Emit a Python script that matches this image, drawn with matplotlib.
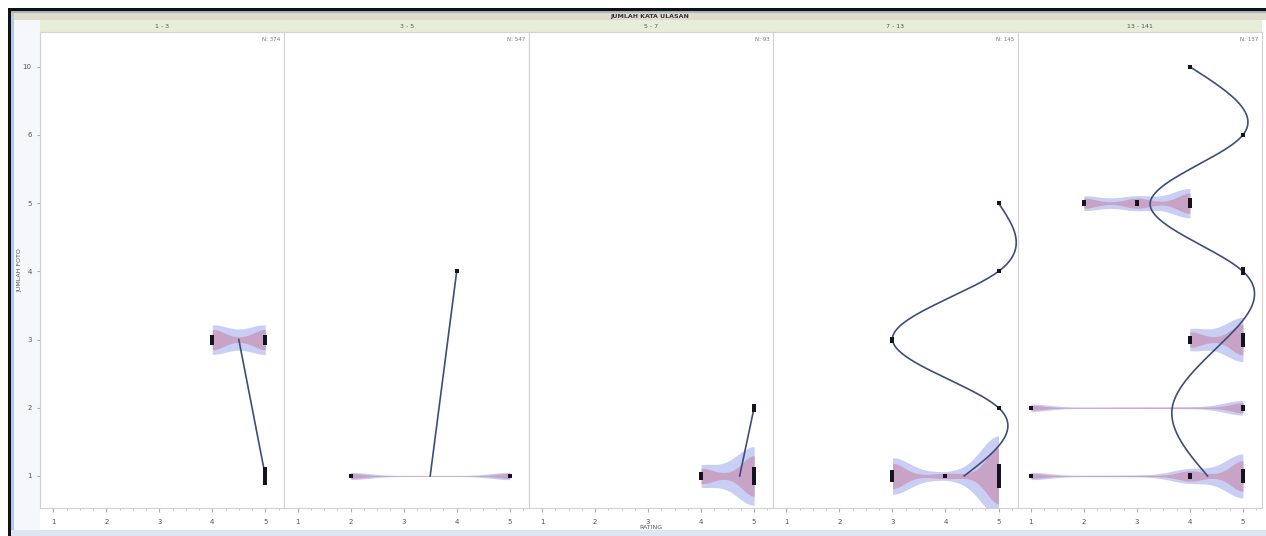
import numpy as np
import matplotlib
matplotlib.use('Agg')
import matplotlib.pyplot as plt
from matplotlib.patches import Rectangle

# data: per panel, {foto category: {rating: count}}
panel_labels = ['1 - 3', '3 - 5', '5 - 7', '7 - 13', '13 - 141']
panel_n = [374, 547, 93, 145, 137]
foto_cats = ['1', '2', '3', '4', '5', '6', '10']

panel1 = {'1': {5: 8}, '3': {4: 4, 5: 4}}
panel2 = {'1': {2: 1, 5: 1}, '4': {4: 1}}
panel3 = {'1': {4: 3, 5: 8}, '2': {5: 3}}
panel4 = {'1': {3: 5, 4: 1, 5: 11}, '2': {5: 1}, '3': {3: 2}, '4': {5: 1}, '5': {5: 1}}
panel5 = {'1': {1: 1, 4: 2, 5: 6}, '2': {1: 1, 5: 2}, '3': {4: 3, 5: 6},
          '4': {5: 3}, '5': {2: 2, 3: 2, 4: 4}, '6': {5: 1}, '10': {4: 1}}
panels = [panel1, panel2, panel3, panel4, panel5]

W, H = 1266, 536
PX_PER_CAT = 68.0
S = 3.2  # px of half width per count


def natural_spline(t, v, tt):
    t = np.asarray(t, float)
    v = np.asarray(v, float)
    n = len(t)
    if n == 2:
        return np.interp(tt, t, v)
    h = np.diff(t)
    A = np.zeros((n, n))
    b = np.zeros(n)
    A[0, 0] = 1
    A[-1, -1] = 1
    for i in range(1, n - 1):
        A[i, i - 1] = h[i - 1]
        A[i, i] = 2 * (h[i - 1] + h[i])
        A[i, i + 1] = h[i]
        b[i] = 3 * ((v[i + 1] - v[i]) / h[i] - (v[i] - v[i - 1]) / h[i - 1])
    c = np.linalg.solve(A, b)
    out = np.zeros_like(tt)
    for i in range(n - 1):
        bi = (v[i + 1] - v[i]) / h[i] - h[i] * (2 * c[i] + c[i + 1]) / 3
        di = (c[i + 1] - c[i]) / (3 * h[i])
        m = (tt >= t[i]) & (tt <= t[i + 1])
        dx = tt[m] - t[i]
        out[m] = v[i] + bi * dx + c[i] * dx ** 2 + di * dx ** 3
    return out


def shape(xs, counts, bw):
    # gaussian bumps on the counts plus a thin linear band between them
    d = np.zeros_like(xs)
    for r, n in counts.items():
        d += n * np.exp(-0.5 * ((xs - r) / bw) ** 2)
    rs = sorted(counts)
    band = np.interp(xs, rs, [counts[r] for r in rs])
    return 0.85 * d + 0.14 * band


def rect(x0, y0, x1, y1, color, z=0):
    fig.add_artist(Rectangle((x0 / W, 1 - y1 / H), (x1 - x0) / W, (y1 - y0) / H,
                             transform=fig.transFigure, facecolor=color,
                             edgecolor='none', zorder=z))


fig = plt.figure(figsize=(W / 100, H / 100), dpi=100)

# frame and header bands
rect(8, 8, W, 11, '#111111', 5)
rect(8, 8, 11, H, '#111111', 5)
rect(11, 11, 40, H, '#f5f7fb')
rect(11, 11, 14, H, '#b3c7e6')
rect(11, 11, W, 13, '#a6b2c6')
rect(14, 13, W, 20, '#e0dccb')
rect(40, 20, 1262, 32, '#e6eed9')
rect(11, 530, W, H, '#dde6f3')
fig.text(650 / W, 1 - 16.5 / H, 'JUMLAH KATA ULASAN', ha='center', va='center',
         fontsize=4.5, fontweight='bold', color='#333333')

left0, right0 = 40, 1262
pw = (right0 - left0) / 5
top, bottom = 32, 508

for i, data in enumerate(panels):
    x0 = left0 + i * pw
    ax = fig.add_axes([x0 / W, (H - bottom) / H, pw / W, (bottom - top) / H])
    ax.set_xlim(0.75, 5.36)
    ax.set_ylim(0.53, 7.51)

    cats = [c for c in foto_cats if c in data]
    ypos = [foto_cats.index(c) + 1 for c in cats]

    # violin-like shapes
    for c, y in zip(cats, ypos):
        counts = data[c]
        if len(counts) < 2:
            continue
        xs = np.linspace(min(counts), max(counts), 300)
        hb = 1.15 * S * shape(xs, counts, 0.34) / PX_PER_CAT
        hm = 0.8 * S * shape(xs, counts, 0.22) / PX_PER_CAT
        ax.fill_between(xs, y - hb, y + hb, color='#c8cef4', lw=0, zorder=1)
        ax.fill_between(xs, y - hm, y + hm, color='#c9a3c6', lw=0, zorder=2)

    # smoother through mean rating
    means = [sum(r * n for r, n in data[c].items()) / sum(data[c].values()) for c in cats]
    if len(ypos) > 1:
        tt = np.linspace(min(ypos), max(ypos), 300)
        ax.plot(natural_spline(ypos, means, tt), tt, color='#3d4d7c', lw=1.2, zorder=3)

    # points, stacked when repeated
    for c, y in zip(cats, ypos):
        for r, n in data[c].items():
            spread = min(2.0 * (n - 1), 22) / PX_PER_CAT
            offs = np.linspace(-spread / 2, spread / 2, n) if n > 1 else [0]
            ax.plot([r] * n, y + np.asarray(offs), 's', ms=2.4, color='#141420',
                    mew=0, zorder=4)

    ax.text(0.985, 0.99, 'N: %d' % panel_n[i], transform=ax.transAxes, ha='right',
            va='top', fontsize=4, color='#777777')
    fig.text((x0 + pw / 2) / W, 1 - 26 / H, panel_labels[i], ha='center', va='center',
             fontsize=4.5, color='#555555')

    for sp in ax.spines.values():
        sp.set_color('#d2d2d2')
        sp.set_linewidth(0.8)
    ax.set_xticks([1, 2, 3, 4, 5])
    ax.set_xticks(np.arange(1.25, 5.3, 0.25), minor=True)
    ax.tick_params(axis='x', which='major', direction='out', length=3, color='#aaaaaa',
                   labelsize=5, labelcolor='#555555', pad=5)
    ax.tick_params(axis='x', which='minor', direction='out', length=1.5, color='#bbbbbb')
    if i == 0:
        ax.set_yticks(range(1, len(foto_cats) + 1))
        ax.set_yticklabels(foto_cats)
        ax.tick_params(axis='y', direction='out', length=2, color='#aaaaaa',
                       labelsize=5, labelcolor='#555555', pad=4)
        ax.set_ylabel('JUMLAH FOTO', fontsize=4.5, color='#555555')
        ax.yaxis.set_label_coords((22 - 40) / pw, 0.5)
    else:
        ax.set_yticks([])
    if i == 2:
        ax.set_xlabel('RATING', fontsize=4.5, color='#555555', labelpad=0)

fig.savefig('out.png', dpi=100)
